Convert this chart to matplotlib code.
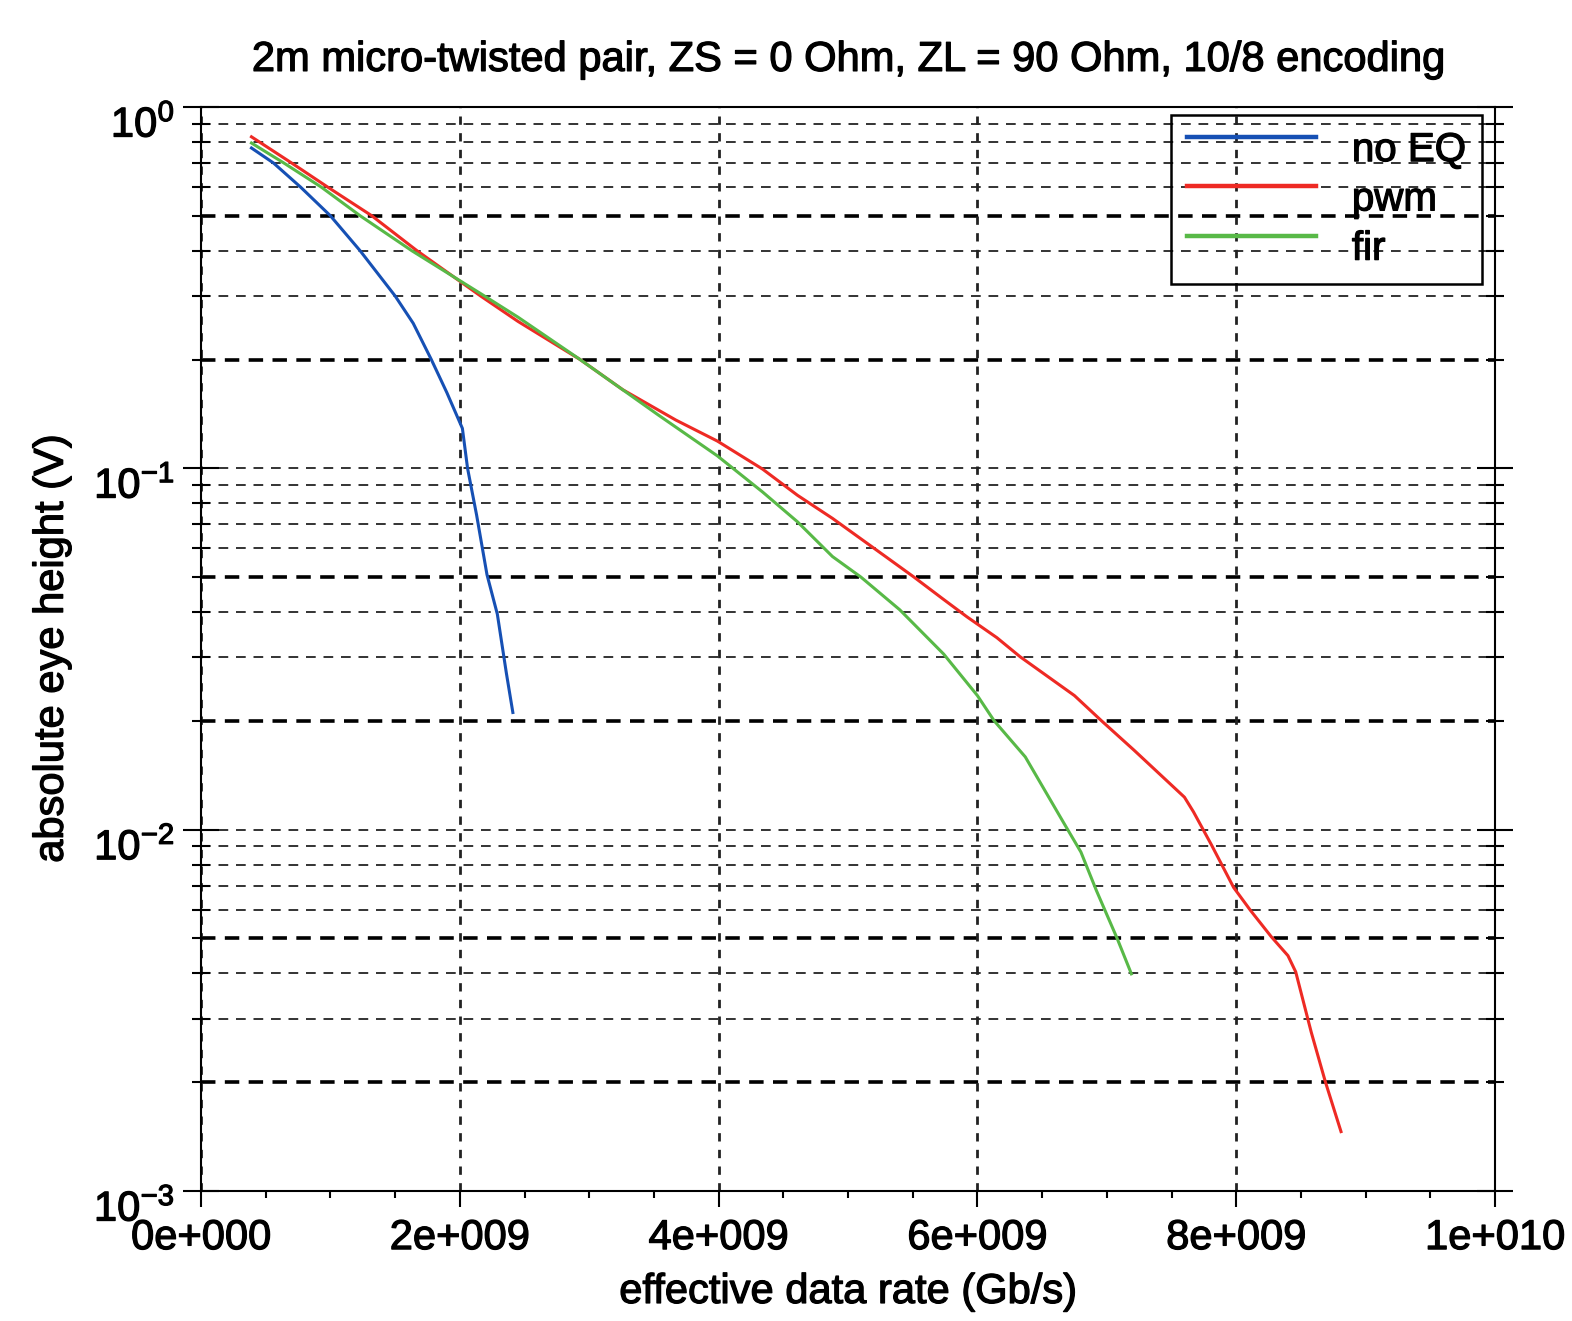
import matplotlib
matplotlib.use('Agg')
import matplotlib.pyplot as plt
import matplotlib.patheffects as pe
import matplotlib.transforms as mtransforms
from matplotlib.ticker import MultipleLocator, FuncFormatter, LogLocator
import numpy as np

# data (rate in units of 1e9, eye height in V)
noeq_rate = [0.39, 0.56, 0.77, 1.00, 1.23, 1.50, 1.64, 1.78, 1.90, 2.02, 2.06, 2.13, 2.21, 2.29, 2.36, 2.41]
noeq_eye = [0.770, 0.700, 0.600, 0.500, 0.400, 0.300, 0.252, 0.200, 0.162, 0.129, 0.100, 0.0742, 0.0508, 0.0395, 0.0271, 0.0211]

pwm_rate = [0.39, 0.70, 0.98, 1.32, 1.67, 2.16, 2.45, 2.93, 3.26, 3.67, 3.99, 4.34, 4.61, 4.88, 5.29, 5.51,
            5.73, 5.92, 6.15, 6.33, 6.75, 6.96, 7.21, 7.60, 7.67, 7.81, 7.98, 8.11, 8.27, 8.40, 8.46,
            8.58, 8.69, 8.81]
pwm_eye = [0.827, 0.700, 0.600, 0.500, 0.400, 0.300, 0.255, 0.200, 0.165, 0.136, 0.119, 0.0995, 0.0842, 0.0727, 0.0570, 0.0500,
           0.0436, 0.0388, 0.0340, 0.0301, 0.0235, 0.0200, 0.0166, 0.0123, 0.0112, 0.00906, 0.00692, 0.00598, 0.00506, 0.00448, 0.00404,
           0.00275, 0.00200, 0.00146]

fir_rate = [0.39, 0.64, 0.93, 1.23, 1.63, 2.19, 2.45, 2.93, 3.53, 3.99, 4.34, 4.61, 4.88, 5.10, 5.40, 5.74,
            6.00, 6.13, 6.37, 6.67, 6.80, 6.92, 7.08, 7.19]
fir_eye = [0.795, 0.700, 0.600, 0.500, 0.400, 0.300, 0.262, 0.200, 0.1408, 0.1083, 0.0860, 0.0711, 0.0570, 0.0500, 0.0406, 0.0306,
           0.0235, 0.0200, 0.0159, 0.0104, 0.00867, 0.00678, 0.00500, 0.00399]

plt.rcParams['font.family'] = ['Liberation Sans', 'DejaVu Sans']
plt.rcParams['mathtext.fontset'] = 'custom'
plt.rcParams['mathtext.rm'] = 'Liberation Sans'
plt.rcParams['mathtext.it'] = 'Liberation Sans'
plt.rcParams['mathtext.bf'] = 'Liberation Sans:bold'
plt.rcParams['axes.unicode_minus'] = False
plt.rcParams['font.size'] = 30

fig = plt.figure(figsize=(15.72, 13.21), dpi=100)
ax = fig.add_axes([201 / 1572, 1 - 1191 / 1321, 1294 / 1572, 1084 / 1321])

ax.plot(np.array(noeq_rate) * 1e9, noeq_eye, color='#1650b4', lw=2.2, label='no EQ', zorder=3)
ax.plot(np.array(pwm_rate) * 1e9, pwm_eye, color='#ee2a24', lw=2.2, label='pwm', zorder=3)
ax.plot(np.array(fir_rate) * 1e9, fir_eye, color='#58b947', lw=2.2, label='fir', zorder=3)

ax.set_yscale('log')
ax.set_xlim(0, 1e10)
ax.set_ylim(1e-3, 1)

ax.xaxis.set_major_locator(MultipleLocator(2e9))
ax.xaxis.set_minor_locator(MultipleLocator(0.5e9))
ax.yaxis.set_major_locator(LogLocator(base=10))
ax.yaxis.set_minor_locator(LogLocator(base=10, subs=np.arange(2, 10)))


def sci_fmt(v, pos):
    if v == 0:
        return '0e+000'
    e = int(np.floor(np.log10(abs(v)) + 1e-9))
    m = v / 10 ** e
    return f'{m:.0f}e+{e:03d}'


ax.xaxis.set_major_formatter(FuncFormatter(sci_fmt))
ax.yaxis.set_minor_formatter(FuncFormatter(lambda v, p: ''))

# grid: thin dashed lines, heavier ones on the 2 and 5 multiples
ax.grid(True, which='major', axis='x', ls=(0, (3, 3)), lw=2.0, color='#222222')
for k in [-1, -2, -3]:
    for m in range(1, 10):
        v = m * 10 ** k
        if v >= 1 or v <= 1e-3:
            continue
        if m in (2, 5):
            ax.axhline(v, ls=(0, (4, 2.6)), lw=2.6, color='black', zorder=1.5)
        else:
            ax.axhline(v, ls=(0, (5, 4)), lw=1.4, color='#333333', zorder=1.5)

ax.tick_params(axis='x', which='major', direction='out', length=11.5, width=1.5, pad=8, labelsize=30)
ax.tick_params(axis='x', which='minor', direction='out', length=5, width=1.5)
ax.tick_params(axis='y', which='major', direction='inout', length=26, width=1.5, pad=6, labelsize=30, right=True)
ax.tick_params(axis='y', which='minor', direction='inout', length=13, width=1.5, right=True)

for s in ax.spines.values():
    s.set_linewidth(1.5)

ax.set_title('2m micro-twisted pair, ZS = 0 Ohm, ZL = 90 Ohm, 10/8 encoding', fontsize=30, pad=26)
ax.set_xlabel('effective data rate (Gb/s)', fontsize=30, labelpad=10)
ax.set_ylabel('absolute eye height (V)', fontsize=30, labelpad=16)

# y labels sit a little below their ticks in the original
shift = mtransforms.ScaledTranslation(0, -10 / 72, fig.dpi_scale_trans)
for lab in ax.get_yticklabels():
    lab.set_transform(lab.get_transform() + shift)

leg = ax.legend(loc='upper right', bbox_to_anchor=(1482 / 1572, 1 - 115 / 1321),
                bbox_transform=fig.transFigure, fontsize=29, frameon=True, fancybox=False,
                edgecolor='black', handlelength=3.2, handletextpad=0.9,
                borderpad=0.4, labelspacing=0.28, borderaxespad=0)
frame = leg.get_frame()
frame.set_facecolor('none')
frame.set_edgecolor('black')
frame.set_alpha(None)
frame.set_linewidth(1.8)
# legend lines sit a bit above their labels in the original
up = mtransforms.ScaledTranslation(0, 10 / 100, fig.dpi_scale_trans)
for line in leg.get_lines():
    line.set_linewidth(3.2)
    line.set_transform(line.get_transform() + up)

# slightly heavier text, like the original
heavy = [pe.withStroke(linewidth=0.9, foreground='black')]
texts = [ax.title, ax.xaxis.label, ax.yaxis.label] + ax.get_xticklabels() + ax.get_yticklabels() + leg.get_texts()
for t in texts:
    t.set_path_effects(heavy)

fig.savefig('out.png', dpi=100)
